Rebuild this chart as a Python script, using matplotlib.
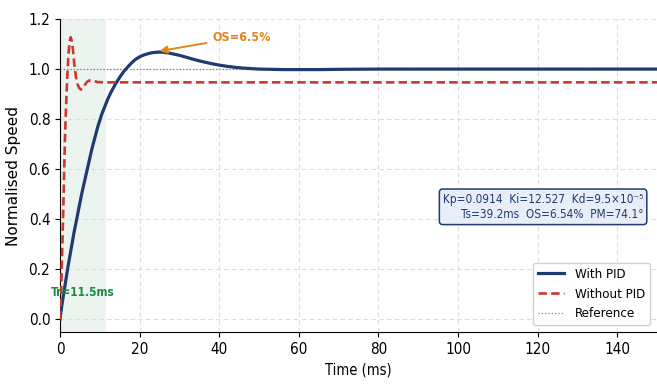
import matplotlib
matplotlib.use("Agg")
import matplotlib.pyplot as plt

plt.rcParams['font.family'] = ['DejaVu Sans']
plt.rcParams['font.stretch'] = 'condensed'

# ---- data ----
t_pid = [0, 0.5, 1, 1.5, 2, 2.5, 3, 3.5, 4, 4.5, 5, 5.5, 6, 6.5, 7, 7.5, 8, 8.5,
         9, 9.5, 10, 10.5, 11, 11.5, 12, 12.5, 13, 14, 15, 16, 17, 18, 19, 20,
         21, 22, 23, 24, 25, 26, 27, 28, 30, 32, 34, 36, 38, 40, 42, 44, 46, 48,
         50, 53, 56, 60, 65, 70, 80, 100, 150]
y_pid = [0, 0.06, 0.11, 0.16, 0.21, 0.255, 0.3, 0.345, 0.385, 0.425, 0.465,
         0.505, 0.54, 0.575, 0.61, 0.645, 0.68, 0.71, 0.74, 0.77, 0.795, 0.82,
         0.84, 0.86, 0.88, 0.897, 0.913, 0.942, 0.967, 0.99, 1.008, 1.025, 1.039,
         1.049, 1.056, 1.061, 1.065, 1.067, 1.068, 1.067, 1.065, 1.062, 1.055,
         1.046, 1.037, 1.029, 1.022, 1.016, 1.011, 1.007, 1.004, 1.002, 1.0,
         0.999, 0.998, 0.998, 0.998, 0.999, 1.0, 1.0, 1.0]

t_open = [0, 0.2, 0.4, 0.6, 0.8, 1.0, 1.25, 1.5, 1.8, 2.1, 2.4, 2.7, 3.0, 3.3,
          3.6, 4.0, 4.4, 4.8, 5.3, 5.8, 6.3, 6.8, 7.3, 7.8, 8.5, 9.5, 11, 150]
y_open = [0, 0.07, 0.18, 0.3, 0.42, 0.56, 0.72, 0.84, 0.96, 1.05, 1.11, 1.127,
          1.11, 1.07, 1.02, 0.97, 0.94, 0.925, 0.918, 0.925, 0.938, 0.949, 0.954,
          0.955, 0.952, 0.948, 0.947, 0.947]

ref_level = 1.0
t_rise = 11.5
os_peak_t = 25
os_peak_y = 1.068
xticks = [0, 20, 40, 60, 80, 100, 120, 140]
yticks = [0.0, 0.2, 0.4, 0.6, 0.8, 1.0, 1.2]

NAVY = '#1f3b70'
RED = '#c9392c'
ORANGE = '#e0861a'
GREEN = '#1e8a44'

fig = plt.figure(figsize=(6.57, 3.84), dpi=100)
ax = fig.add_axes([0.0913, 0.1354, 0.9087, 0.8151])

ax.axvspan(0, t_rise, color='#2e8b57', alpha=0.09, lw=0, zorder=0)
ax.plot(t_pid, y_pid, color=NAVY, lw=2.3, label='With PID', zorder=3)
ax.plot(t_open, y_open, color=RED, lw=1.9, dashes=(3.2, 1.6), label='Without PID', zorder=3)
ax.axhline(ref_level, color='#777777', lw=0.9, ls=':', label='Reference', zorder=2)

ax.set_xlim(0, 150)
ax.set_ylim(-0.05, 1.2)
ax.set_xticks(xticks)
ax.set_yticks(yticks)
ax.tick_params(labelsize=11)
ax.grid(True, color='#dddddd', lw=0.8, ls=(0, (4, 3)))
ax.set_axisbelow(True)
for s in ('top', 'right'):
    ax.spines[s].set_visible(False)

ax.set_xlabel('Time (ms)', fontsize=10.5)
ax.set_ylabel('Normalised Speed', fontsize=11, fontstretch='normal', labelpad=5)

ax.annotate('OS=6.5%', xy=(os_peak_t, os_peak_y + 0.004), xytext=(38.2, 1.128),
            ha='left', va='center', fontsize=9, fontweight='bold', color=ORANGE,
            arrowprops=dict(arrowstyle='-|>', color=ORANGE, lw=1.4,
                            mutation_scale=11, shrinkA=2, shrinkB=0))

ax.text(t_rise / 2, 0.108, 'Tr=11.5ms', ha='center', va='center', fontsize=8.5,
        fontweight='bold', color=GREEN, zorder=4)

ax.text(0.977, 0.40,
        'Kp=0.0914  Ki=12.527  Kd=9.5\u00d710\u207b\u2075\nTs=39.2ms  OS=6.54%  PM=74.1\u00b0',
        transform=ax.transAxes, ha='right', va='center', multialignment='right',
        fontsize=8.5, color=NAVY, linespacing=1.25,
        bbox=dict(boxstyle='round,pad=0.3', facecolor='#e8eef8', edgecolor=NAVY, lw=1.1))

ax.legend(loc='lower right', fontsize=9.5, framealpha=0.9, edgecolor='#cccccc')

fig.savefig('out.png', dpi=100)
